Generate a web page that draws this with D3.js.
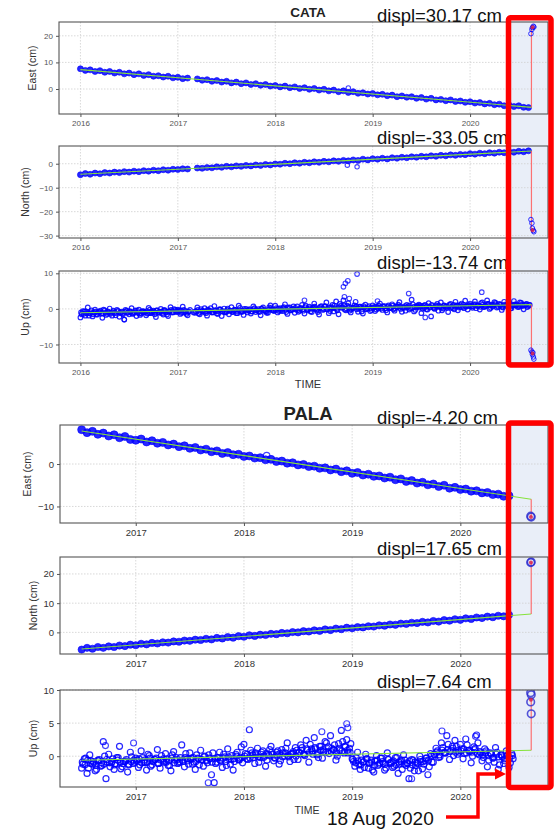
<!DOCTYPE html>
<html>
<head>
<meta charset="utf-8">
<script src="https://cdn.jsdelivr.net/npm/d3@7"></script>
<style>
  body { margin: 0; background: #fff; }
  svg text { font-family: "Liberation Sans", Arial, sans-serif; }
</style>
</head>
<body>
<svg id="chart" width="558" height="830"></svg>
<script>
// ---------- data (cm), regular series: start year + step ----------
const cataStart = 2016.0, cataStep = 0.05, cataUpStep = 0.025;
const palaStart = 2016.5, palaStep = 0.05, palaUpStep = 0.025;

const cataEast = [7.6, 7.0, 7.2, 6.6, 6.9, 6.3, 6.6, 6.0, 6.3, 5.7,
  6.0, 5.4, 5.7, 5.1, 5.4, 4.8, 5.0, 4.5, 4.8, 4.2,
  4.4, 3.9, 4.1, null, 3.8, 3.3, 3.5, 2.9, 3.2, 2.6,
  2.9, 2.3, 2.6, 2.0, 2.3, 1.7, 2.0, 1.4, 1.7, 1.1,
  1.3, 0.8, 1.1, 0.5, 0.8, 0.2, 0.5, -0.1, 0.2, -0.4,
  -0.1, -0.7, -0.4, -1.0, -0.7, -1.3, -1.0, -1.6, -1.4, -1.9,
  -1.7, -2.2, -2.0, -2.5, -2.3, -2.9, -2.6, -3.1, -2.9, -3.5,
  -3.2, -3.8, -3.5, -4.1, -3.9, -4.4, -4.1, -4.7, -4.5, -5.0,
  -4.8, -5.3, -5.1, -5.6, -5.4, -5.9, -5.7, -6.3, -6.0, -6.6,
  -6.3, -6.9, -7.0];
const cataNorth = [-4.6, -4.1, -4.4, -3.9, -4.2, -3.7, -3.9, -3.5, -3.7, -3.3,
  -3.5, -3.1, -3.3, -2.9, -3.1, -2.7, -2.9, -2.5, -2.7, -2.3,
  -2.4, -2.1, -2.2, null, -1.8, -1.9, -1.6, -1.7, -1.3, -1.5,
  -1.1, -1.3, -0.9, -1.1, -0.7, -0.9, -0.5, -0.7, -0.3, -0.5,
  -0.1, -0.2, 0.2, 0.0, 0.4, 0.2, 0.6, 0.4, 0.8, 0.6,
  1.0, 0.8, 1.2, 1.0, 1.4, 1.2, 1.6, 1.4, 1.9, 1.6,
  2.1, 1.9, 2.3, 2.0, 2.5, 2.3, 2.7, 2.5, 2.9, 2.7,
  3.1, 2.9, 3.3, 3.1, 3.5, 3.3, 3.7, 3.5, 3.9, 3.8,
  4.2, 4.0, 4.4, 4.2, 4.6, 4.4, 4.8, 4.6, 5.0, 4.8,
  5.2, 5.0, 5.4];
// three interleaved runs of vertical readings (B starts half a step later, C a quarter step later)
const cataUp = [-2.4, -0.6, -1.9, 0.4, -1.3, -2.1, -0.2, -1.6, -0.9, -2.5,
  -0.4, -1.4, 0.1, -1.9, -1.0, -0.3, -2.2, -0.8, -3.0, -0.5,
  -1.5, 0.2, -1.1, -2.0, -0.2, -1.3, -0.7, -1.8, 0.3, -1.2,
  -0.5, -2.3, -0.9, 0.0, -1.6, -0.6, -2.0, 0.5, -1.0, -0.3,
  -0.2, -1.4, 0.6, -0.9, -1.8, -0.3, null, -1.1, 0.4, -1.5,
  -0.6, 0.2, -1.9, -0.4, -1.0, 0.8, -1.3, -0.2, -2.0, 0.1,
  -0.8, -1.5, 0.5, -0.5, -1.2, 0.9, -0.7, -1.7, 0.0, -0.4,
  -1.3, 0.7, -0.9, -0.1, -1.8, 0.4, -0.6, -1.1, 1.0, -0.3,
  0.9, -1.0, 0.2, -0.6, 1.3, -1.4, 0.4, -0.2, -1.1, 0.7,
  -0.5, 1.1, -1.3, 0.0, 0.6, -0.9, 1.5, -0.3, -1.6, 0.8,
  -0.1, 1.8, -1.2, 0.5, -0.7, 2.1, -1.5, 0.9, 2.4, -0.4,
  1.6, -1.0, 0.3, 2.0, -0.8, 0.6, -1.3, 1.2, 0.1, -0.6,
  1.0, -0.6, 0.4, 1.5, -0.3, 0.8, -1.0, 0.2, 1.3, -0.5,
  0.6, 1.9, -0.8, 0.3, 1.1, -0.2, 2.6, -0.7, 0.5, 1.2,
  -1.2, 0.9, -0.1, 1.6, -2.1, 0.4, 1.0, -0.5, 1.8, 0.1,
  0.7, -0.9, 1.4, 0.2, 2.0, -0.4, 1.1, 0.5, 2.3, -0.2,
  1.5, 0.3, 2.1, 0.8, -0.2, 1.8, 0.6, 2.4, 0.0, 1.2,
  1.9, 0.4, 1.4, -0.3, 2.0, 0.9, 1.6, 0.2, 2.2, 1.0,
  0.5, 1.7, -0.1, 1.3, 0.8];
const cataUpB = [-1.5, -0.7, -1.2, -1.9, -0.4, -1.0, -1.6, -0.8, -1.3, -0.2,
  -1.7, -0.9, -1.1, -0.5, -1.8, -0.6, -1.2, -1.5, -0.3, -1.0,
  -0.8, -1.4, -0.4, -1.1, -1.7, -0.6, -0.9, -1.3, -0.2, -1.0,
  -1.5, -0.4, -0.8, -1.2, -0.3, -1.6, -0.7, -1.0, -0.1, -0.9,
  -0.5, -1.1, -0.3, -1.4, -0.7, null, -1.0, -0.6, -1.3, -0.1,
  -0.8, -1.2, -0.4, 0.2, -0.9, -0.6, -1.4, -0.2, -0.7, -1.0,
  0.1, -0.5, -0.9, -0.3, -1.2, 0.3, -0.6, -0.4, -1.0, -0.1,
  -0.7, 0.2, -0.4, -0.9, 0.0, -0.5, -1.1, 0.4, -0.3, -0.6,
  0.2, -0.6, -0.1, 0.5, -0.9, 0.0, -0.4, 0.7, -0.2, -0.8,
  0.3, -0.5, 0.9, -0.1, -0.7, 0.4, 0.1, -0.9, 0.6, -0.3,
  0.8, 0.0, -0.6, 1.1, 0.2, -0.4, 1.4, 0.5, -0.2, 0.9,
  -0.5, 0.3, 1.0, -0.1, 0.6, -0.7, 0.4, 0.0, 0.8, -0.3,
  0.5, -0.2, 0.9, 0.1, 0.6, -0.4, 1.0, 0.3, -0.1, 0.7,
  1.2, 0.0, 0.5, -0.5, 0.8, 0.2, 1.3, -0.3, 0.6, 0.9,
  0.1, 1.1, -0.2, 0.4, 0.8, 0.0, 1.4, 0.5, -0.4, 0.9,
  0.3, 1.2, 0.6, -0.1, 1.0, 0.4, 1.5, 0.2, 0.8, 1.1,
  0.7, 1.3, 0.2, 1.0, 1.6, 0.5, 0.9, 1.4, 0.3, 1.1,
  1.7, 0.6, 1.2, 0.4, 0.9, 1.5, 0.1, 1.0, 1.3, 0.6,
  1.8, 0.8, 1.2, 0.5, 1.1];
const cataUpC = [-1.0, -1.4, -0.7, -1.2, -0.9, -1.5, -0.8, -1.1, -0.5, -1.3,
  -1.0, -0.7, -1.4, -0.9, -1.2, -0.6, -1.0, -1.3, -0.8, -1.1,
  -0.6, -1.2, -0.9, -0.5, -1.3, -0.8, -1.0, -0.6, -1.2, -0.7,
  -0.9, -0.4, -1.1, -0.8, -0.5, -1.0, -0.7, -0.3, -0.9, -0.6,
  -0.8, -0.4, -1.0, -0.6, -0.9, null, null, -0.7, -0.3, -0.9,
  -0.5, -0.8, -0.2, -0.6, -1.0, -0.4, -0.7, -0.1, -0.6, -0.9,
  -0.3, -0.5, -0.8, -0.2, -0.6, -0.4, -0.9, 0.0, -0.5, -0.3,
  -0.7, -0.1, -0.4, -0.6, 0.1, -0.3, -0.7, -0.2, 0.2, -0.4,
  -0.3, 0.1, -0.5, 0.2, -0.2, 0.4, -0.4, 0.0, 0.3, -0.3,
  0.1, -0.1, 0.5, -0.4, 0.2, 0.0, 0.6, -0.2, 0.3, 0.1,
  0.7, -0.1, 0.4, 0.2, 0.9, 0.0, 0.5, 0.3, 1.0, 0.1,
  0.6, -0.2, 0.4, 0.7, 0.1, 0.3, 0.8, -0.1, 0.5, 0.2,
  0.3, 0.6, 0.1, 0.5, 0.8, 0.2, 0.6, 0.4, 0.9, 0.1,
  0.5, 0.7, 0.3, 0.8, 0.4, 1.0, 0.2, 0.6, 0.9, 0.4,
  0.7, 0.3, 0.8, 0.5, 1.1, 0.2, 0.6, 0.9, 0.4, 1.0,
  0.6, 0.8, 0.3, 1.1, 0.7, 0.9, 0.5, 1.2, 0.6, 0.8,
  1.0, 0.7, 1.3, 0.9, 0.6, 1.2, 0.8, 1.4, 1.0, 0.7,
  1.3, 0.9, 1.1, 0.6, 1.2, 1.0, 1.5, 0.8, 1.1, 1.3,
  0.9, 1.2, 1.0, 1.4, 1.1];

const palaEast = [8.1, 7.4, 7.7, 7.0, 7.3, 6.6, 6.9, 6.2, 6.5, 5.8,
  5.6, 5.9, 5.2, 5.5, 4.9, 5.1, 4.5, 4.7, 4.1, 4.3,
  3.7, 3.9, 3.3, 3.5, 2.9, 3.1, 2.5, 2.7, 2.2, 2.3,
  1.8, 1.9, 1.4, 1.5, 1.0, 1.1, 0.6, 0.7, 0.2, 0.3,
  -0.2, -0.1, -0.6, -0.5, -1.0, -0.9, -1.4, -1.2, -1.8, -1.6,
  -2.2, -2.0, -2.6, -2.4, -2.9, -2.8, -3.3, -3.1, -3.7, -3.5,
  -4.1, -3.9, -4.5, -4.3, -4.9, -4.7, -5.3, -5.0, -5.7, -5.5,
  -6.0, -5.9, -6.4, -6.3, -6.8, -6.7, -7.2, -7.1, -7.6, -7.5];
const palaNorth = [-5.9, -5.3, -5.6, -5.0, -5.3, -4.8, -5.0, -4.5, -4.7, -4.2,
  -4.4, -3.9, -4.1, -3.6, -3.8, -3.4, -3.5, -3.1, -3.2, -2.8,
  -2.9, -2.5, -2.6, -2.2, -2.4, -1.9, -2.1, -1.6, -1.8, -1.3,
  -1.5, -1.0, -1.2, -0.8, -0.9, -0.5, -0.6, -0.2, -0.3, 0.1,
  0.0, 0.4, 0.3, 0.7, 0.5, 1.0, 0.8, 1.3, 1.1, 1.6,
  1.4, 1.8, 1.7, 2.1, 2.0, 2.4, 2.3, 2.7, 2.6, 3.0,
  2.9, 3.3, 3.2, 3.6, 3.4, 3.9, 3.7, 4.2, 4.0, 4.5,
  4.3, 4.8, 4.6, 5.1, 4.9, 5.4, 5.2, 5.7, 5.5, 6.0];
const palaUp = [-1.8, -0.4, -2.6, 0.2, -1.2, -2.2, -0.6, -1.5, 2.2, -3.4,
  0.3, -1.0, -2.0, -0.2, 1.5, -1.6, -0.8, -2.4, 0.6, -1.1,
  -0.3, -1.7, 0.8, -0.9, -2.1, 0.1, -1.3, -0.5, 1.0, -1.8,
  -0.7, 0.4, -1.4, -2.2, 0.7, -0.2, -1.0, 1.7, -1.6, -0.4,
  0.5, -1.2, -2.0, -0.3, 0.9, -1.5, -0.6, 0.2, -2.8, -4.0,
  -0.9, 0.6, -1.7, -0.1, 1.1, -1.2, -2.1, 0.3, -0.5, 1.4,
  1.8, -0.4, 4.0, 0.5, -1.1, 1.2, -0.2, 0.8, -1.5, 0.3,
  1.5, -0.7, 0.6, -1.2, 1.0, 0.0, 2.0, -0.8, 0.4, 1.3,
  -0.5, 1.7, 0.3, 2.4, -0.9, 1.1, 2.8, 0.2, 1.5, -0.3,
  2.2, 0.7, 3.1, 1.0, -0.6, 1.9, 3.9, 0.5, 2.5, 1.2,
  -0.4, -1.5, 0.6, -2.0, -0.9, 0.3, -1.8, -0.6, -2.4, 0.1,
  -1.2, -0.3, -2.1, 0.5, -1.0, -1.7, -0.2, -2.6, -0.8, 0.2,
  -1.4, -3.4, -0.5, -2.2, -1.0, 0.0, -1.9, -0.7, -2.8, 0.4,
  -0.9, 1.2, -0.2, 2.0, 0.6, 3.1, -0.5, 1.5, 2.4, 0.3,
  1.8, -0.4, 2.6, 0.9, -1.0, 1.4, 3.2, 0.2, -0.7, 1.1,
  -1.6, 0.5, -0.3, 1.3, -2.0, 0.2, -1.1, 0.8, -1.7, 0.4];
const palaUpB = [-1.2, -0.3, -1.8, -0.7, -1.0, -2.0, -0.5, -1.4, 0.0, -0.9,
  -1.6, -0.4, -1.1, -0.2, -1.9, -0.8, -0.5, -1.3, -0.1, -0.9,
  -0.6, -1.3, -0.2, -1.0, 0.3, -1.5, -0.7, -0.3, -1.1, 0.1,
  -0.9, -0.4, -1.4, 0.2, -0.6, -1.1, -0.2, -0.8, 0.4, -1.2,
  -0.3, -0.9, 0.2, -1.3, -0.5, 0.0, -1.0, -0.4, 0.5, -1.1,
  -0.2, -0.7, 0.3, -1.4, -0.4, 0.1, -0.8, 0.6, -0.3, -1.0,
  0.4, -0.5, 0.9, -0.2, 0.2, -0.9, 0.6, 0.0, -0.6, 1.0,
  0.3, -0.3, 0.8, -0.7, 0.5, 1.2, -0.1, 0.4, -0.5, 0.9,
  0.6, 1.3, 0.1, 0.9, 1.8, 0.3, 1.1, -0.2, 1.5, 0.7,
  2.0, 0.4, 1.2, 1.7, 0.0, 0.9, 2.2, 1.4, 0.5, 1.9,
  -0.8, -0.2, -1.3, -0.6, -1.7, -0.4, -1.0, -2.1, -0.7, -1.4,
  -0.3, -1.1, -1.8, -0.5, -0.9, -1.5, -0.2, -1.2, -2.0, -0.6,
  -1.1, -1.8, -0.6, -1.4, -2.2, -0.8, -1.2, -0.3, -1.6, -0.9,
  0.2, 0.8, -0.1, 1.3, 0.5, 1.8, 0.9, 0.1, 1.5, 0.6,
  1.1, 0.4, 1.7, 0.7, 0.0, 1.2, 2.0, 0.5, -0.2, 0.8,
  -0.6, 0.3, -0.9, 0.6, -1.3, -0.1, -0.7, 0.2, -1.0, -0.4];
const palaUpC = [-0.9, -1.3, -0.6, -1.1, -0.8, -1.4, -0.7, -1.0, -1.2, -0.5,
  -1.0, -0.8, -1.3, -0.6, -0.9, -1.1, -0.7, -1.2, -0.8, -0.6,
  -0.7, -0.4, -1.0, -0.6, -0.9, -0.3, -0.8, -0.5, -1.1, -0.6,
  -0.4, -0.9, -0.7, -0.3, -1.0, -0.5, -0.8, -0.6, -0.2, -0.7,
  -0.5, -0.2, -0.8, -0.4, -0.6, -0.1, -0.7, -0.3, -0.9, -0.4,
  -0.2, -0.6, -0.3, -0.8, -0.1, -0.5, -0.4, 0.0, -0.6, -0.2,
  0.0, 0.3, -0.3, 0.2, 0.5, -0.1, 0.3, -0.2, 0.4, 0.1,
  0.6, -0.2, 0.2, 0.4, -0.1, 0.5, 0.1, 0.3, 0.7, 0.0,
  0.5, 0.9, 0.3, 1.1, 0.6, 0.8, 1.3, 0.4, 0.9, 1.0,
  0.6, 1.4, 0.7, 1.0, 0.5, 1.2, 0.8, 1.5, 0.9, 0.6,
  -0.5, -1.0, -0.7, -1.3, -0.8, -0.4, -1.1, -0.9, -1.4, -0.6,
  -1.0, -0.8, -1.2, -0.5, -1.1, -0.7, -1.3, -0.9, -0.6, -1.2,
  -1.0, -0.7, -1.3, -0.9, -1.1, -0.5, -0.8, -0.3, -0.6, 0.0,
  0.3, 0.6, 0.2, 0.9, 0.5, 1.0, 0.7, 1.2, 0.6, 0.9,
  0.8, 1.1, 0.5, 0.9, 0.6, 1.0, 0.4, 0.7, 0.2, 0.5,
  0.1, 0.4, -0.2, 0.3, -0.1, 0.2, -0.4, 0.0, -0.2, 0.1];

// isolated points: [year, cm]
const cataEastExtra = [[2018.75, 0.4]];
const cataNorthExtra = [[2018.74, -0.6], [2018.84, -1.3]];
const cataUpExtra = [[2016.45, -3.0], [2018.30, 2.4], [2018.70, 6.2], [2018.71, 3.4], [2018.72, 7.2],
  [2018.745, 7.9], [2018.76, 2.9], [2018.84, 9.8], [2019.05, 2.2], [2019.37, 4.3], [2019.54, -2.4], [2020.12, 4.7]];
const palaEastExtra = [[2018.21, 2.0]];
const palaNorthExtra = [];
const palaUpExtra = [[2016.72, 1.6], [2016.98, 2.0], [2017.67, -4.0], [2018.72, 3.7], [2018.95, 4.9],
  [2018.96, 4.3], [2019.55, -3.4], [2019.83, 3.8], [2020.14, 3.0]];

// after 18 Aug 2020
const cataEastPost = [[2020.625, 20.8], [2020.635, 22.4], [2020.64, 23.1], [2020.65, 23.6], [2020.655, 23.3]];
const cataNorthPost = [[2020.625, -23.3], [2020.635, -24.8], [2020.64, -26.9], [2020.65, -27.9], [2020.655, -28.4]];
const cataUpPost = [[2020.625, -11.6], [2020.635, -12.1], [2020.645, -12.3], [2020.64, -12.8], [2020.65, -13.5], [2020.655, -14.1]];
const palaEastPost = [[2020.65, -12.3], [2020.655, -12.5]];
const palaNorthPost = [[2020.65, 23.9], [2020.655, 24.1]];
const palaUpPost = [[2020.65, 9.6], [2020.655, 9.3], [2020.65, 8.2], [2020.655, 6.4]];

// linear fits [start, end-at-event]
const cataEastFit = [[2016.0, 7.3], [2020.63, -6.9]];
const cataNorthFit = [[2016.0, -4.4], [2020.63, 5.3]];
const cataUpFit = [[2016.0, -1.1], [2020.63, 1.2]];
const palaEastFit = [[2016.5, 7.8], [2020.655, -8.3]];
const palaNorthFit = [[2016.5, -5.7], [2020.655, 6.3]];
const palaUpFit = [[2016.5, -0.6], [2020.655, 0.9]];

const cataDispl = [30.17, -33.05, -13.74];
const palaDispl = [-4.20, 17.65, 7.64];

const cataYears = [2016, 2017, 2018, 2019, 2020];
const palaYears = [2017, 2018, 2019, 2020];
const eventLabel = "18 Aug 2020";

// ---------- drawing ----------
const svg = d3.select("#chart");

// shaded highlight behind both figures
const boxes = [{x: 508.5, y: 17.8, w: 42.5, h: 347.2}, {x: 508.5, y: 423, w: 42.5, h: 364.5}];
svg.selectAll("rect.shade").data(boxes).join("rect")
  .attr("class", "shade")
  .attr("x", d => d.x).attr("y", d => d.y).attr("width", d => d.w).attr("height", d => d.h)
  .attr("fill", "#e9eef8");

const cataX = d3.scaleLinear().domain([2015.78, 2020.80]).range([59, 548]);
const palaX = d3.scaleLinear().domain([2016.30, 2020.81]).range([60, 548]);

const toPairs = (vals, start, step) =>
  vals.map((v, i) => [start + i * step, v]).filter(d => d[1] !== null);

const panels = [
  {id: "ce", x: cataX, years: cataYears, top: 22, bottom: 114, yDomain: [-9.4, 25.2], yTicks: [0, 10, 20],
   label: "East (cm)", labelX: 32, pts: toPairs(cataEast, cataStart, cataStep), extra: cataEastExtra,
   post: cataEastPost, fit: cataEastFit, displ: cataDispl[0], band: true, r: 3, cata: true},
  {id: "cn", x: cataX, years: cataYears, top: 146, bottom: 238, yDomain: [-31, 7.4], yTicks: [-30, -20, -10, 0],
   label: "North (cm)", labelX: 25, pts: toPairs(cataNorth, cataStart, cataStep), extra: cataNorthExtra,
   post: cataNorthPost, fit: cataNorthFit, displ: cataDispl[1], band: true, r: 3, cata: true},
  {id: "cu", x: cataX, years: cataYears, top: 271, bottom: 363, yDomain: [-15.2, 10.65], yTicks: [-10, 0, 10],
   label: "Up (cm)", labelX: 25,
   pts: toPairs(cataUp, cataStart, cataUpStep)
     .concat(toPairs(cataUpB, cataStart + cataUpStep / 2, cataUpStep))
     .concat(toPairs(cataUpC, cataStart + cataUpStep / 4, cataUpStep)),
   extra: cataUpExtra, post: cataUpPost, fit: cataUpFit, displ: cataDispl[2], band: false, r: 2.3, cata: true},
  {id: "pe", x: palaX, years: palaYears, top: 425, bottom: 523, yDomain: [-13.9, 9.2], yTicks: [-10, 0],
   label: "East (cm)", labelX: 27, pts: toPairs(palaEast, palaStart, palaStep), extra: palaEastExtra,
   post: palaEastPost, fit: palaEastFit, displ: palaDispl[0], band: true, r: 4, cata: false},
  {id: "pn", x: palaX, years: palaYears, top: 557, bottom: 654, yDomain: [-7.4, 25.8], yTicks: [0, 10, 20],
   label: "North (cm)", labelX: 33, pts: toPairs(palaNorth, palaStart, palaStep), extra: palaNorthExtra,
   post: palaNorthPost, fit: palaNorthFit, displ: palaDispl[1], band: true, r: 3.6, cata: false},
  {id: "pu", x: palaX, years: palaYears, top: 690, bottom: 787, yDomain: [-4.65, 10], yTicks: [0, 5, 10],
   label: "Up (cm)", labelX: 33,
   pts: toPairs(palaUp, palaStart, palaUpStep)
     .concat(toPairs(palaUpB, palaStart + palaUpStep / 2, palaUpStep))
     .concat(toPairs(palaUpC, palaStart + palaUpStep / 4, palaUpStep)),
   extra: palaUpExtra, post: palaUpPost, fit: palaUpFit, displ: palaDispl[2], band: false, r: 3, cata: false}
];

function drawPanel(p) {
  const x = p.x;
  const y = d3.scaleLinear().domain(p.yDomain).range([p.bottom, p.top]);
  const [x0, x1] = x.range();
  const g = svg.append("g");

  g.append("clipPath").attr("id", "clip-" + p.id)
    .append("rect").attr("x", x0).attr("y", p.top).attr("width", x1 - x0).attr("height", p.bottom - p.top);

  // dotted grid
  g.selectAll(".gx").data(p.years).join("line")
    .attr("x1", d => x(d)).attr("x2", d => x(d)).attr("y1", p.top).attr("y2", p.bottom)
    .attr("stroke", "#cfcfcf").attr("stroke-width", 0.8).attr("stroke-dasharray", "1.5,1.5");
  g.selectAll(".gy").data(p.yTicks).join("line")
    .attr("x1", x0).attr("x2", x1).attr("y1", d => y(d)).attr("y2", d => y(d))
    .attr("stroke", "#cfcfcf").attr("stroke-width", 0.8).attr("stroke-dasharray", "1.5,1.5");

  const plot = g.append("g").attr("clip-path", `url(#clip-${p.id})`);

  plot.selectAll("circle.obs").data(p.pts).join("circle")
    .attr("class", "obs")
    .attr("cx", d => x(d[0])).attr("cy", d => y(d[1])).attr("r", p.r)
    .attr("fill", p.band ? "blue" : "none")
    .attr("fill-opacity", p.band ? 0.85 : 0)
    .attr("stroke", "blue")
    .attr("stroke-opacity", p.band ? 0.6 : 0.85)
    .attr("stroke-width", p.band ? 1 : 1.2);

  // isolated readings drawn as open rings
  plot.selectAll("circle.extra").data(p.extra).join("circle")
    .attr("class", "extra")
    .attr("cx", d => x(d[0])).attr("cy", d => y(d[1]))
    .attr("r", p.band ? p.r - 0.8 : p.r)
    .attr("fill", "none").attr("stroke", "blue").attr("stroke-opacity", 0.75).attr("stroke-width", 1.1);

  // fit line
  const line = d3.line().x(d => x(d[0])).y(d => y(d[1]));
  plot.append("path").datum(p.fit).attr("d", line)
    .attr("fill", "none").attr("stroke", "#86e23c").attr("stroke-width", 1.1);

  // jump at the event
  const end = p.fit[1];
  const after = [end[0], end[1] + p.displ];
  plot.append("path").datum([end, after]).attr("d", line)
    .attr("fill", "none").attr("stroke", "#ff5a5a").attr("stroke-width", 1.2).attr("stroke-opacity", 0.85);

  plot.selectAll("circle.post").data(p.post).join("circle")
    .attr("class", "post")
    .attr("cx", d => x(d[0])).attr("cy", d => y(d[1]))
    .attr("r", p.cata ? 2.3 : 3.8)
    .attr("fill", "none").attr("stroke", p.cata ? "blue" : "#2a2ad0")
    .attr("stroke-opacity", 0.8).attr("stroke-width", p.cata ? 1 : 1.6);

  plot.append("circle").datum([d3.mean(p.post, d => d[0]), after[1]])
    .attr("cx", d => x(d[0])).attr("cy", d => y(d[1])).attr("r", 2)
    .attr("fill", "#d8204a").attr("fill-opacity", 0.85);

  // frame
  g.append("rect").attr("x", x0).attr("y", p.top).attr("width", x1 - x0).attr("height", p.bottom - p.top)
    .attr("fill", "none").attr("stroke", "#555").attr("stroke-width", 1.1);

  const tickFont = p.cata ? "DejaVu Sans, sans-serif" : "Liberation Sans, Arial, sans-serif";
  const tickSize = p.cata ? 8 : 9.5;
  const tickColor = p.cata ? "#555" : "#333";

  const ay = g.append("g").attr("transform", `translate(${x0},0)`)
    .call(d3.axisLeft(y).tickValues(p.yTicks).tickSize(3).tickPadding(3).tickFormat(d3.format("d")));
  const ax = g.append("g").attr("transform", `translate(0,${p.bottom})`)
    .call(d3.axisBottom(x).tickValues(p.years).tickSize(3).tickPadding(3).tickFormat(d3.format("d")));
  [ay, ax].forEach(a => {
    a.select(".domain").remove();
    a.selectAll("line").attr("stroke", "#555");
    a.selectAll("text").attr("font-family", tickFont).attr("font-size", tickSize).attr("fill", tickColor);
  });

  g.append("text")
    .attr("transform", `translate(${p.labelX},${(p.top + p.bottom) / 2}) rotate(-90)`)
    .attr("text-anchor", "middle").attr("dy", "0.35em")
    .attr("font-size", 10.5).attr("fill", "#333")
    .text(p.label);
}

panels.forEach(drawPanel);

// titles
svg.append("text").attr("x", 308).attr("y", 17).attr("text-anchor", "middle")
  .attr("font-weight", "bold").attr("font-size", 13.5).attr("fill", "#222").text("CATA");
svg.append("text").attr("x", 308).attr("y", 420).attr("text-anchor", "middle")
  .attr("font-weight", "bold").attr("font-size", 18.5).attr("fill", "#222").text("PALA");
svg.append("text").attr("x", 308).attr("y", 387.5).attr("text-anchor", "middle")
  .attr("font-size", 11).attr("fill", "#333").text("TIME");
svg.append("text").attr("x", 307).attr("y", 813.5).attr("text-anchor", "middle")
  .attr("font-size", 10.5).attr("fill", "#333").text("TIME");

// displacement labels
const displBase = [21.5, 144, 269, 423.5, 554.5, 687.5];
svg.selectAll("text.displ").data(cataDispl.concat(palaDispl)).join("text")
  .attr("class", "displ")
  .attr("x", 377).attr("y", (d, i) => displBase[i])
  .attr("font-size", 18.5).attr("fill", "#111")
  .text(d => `displ=${d.toFixed(2)} cm`);

// red highlight boxes
svg.selectAll("rect.hl").data(boxes).join("rect")
  .attr("class", "hl")
  .attr("x", d => d.x).attr("y", d => d.y).attr("width", d => d.w).attr("height", d => d.h)
  .attr("rx", 2)
  .attr("fill", "none").attr("stroke", "#ff0000").attr("stroke-width", 5.5);

// date annotation with arrow
svg.append("text").attr("x", 327).attr("y", 824.5)
  .attr("font-size", 19).attr("fill", "#111").text(eventLabel);
svg.append("path").attr("d", "M446,817 H478 V774 H496")
  .attr("fill", "none").attr("stroke", "#ff0000").attr("stroke-width", 3.5);
svg.append("path").attr("d", "M506,774 L495,768.5 L495,779.5 Z").attr("fill", "#ff0000");
</script>
</body>
</html>
